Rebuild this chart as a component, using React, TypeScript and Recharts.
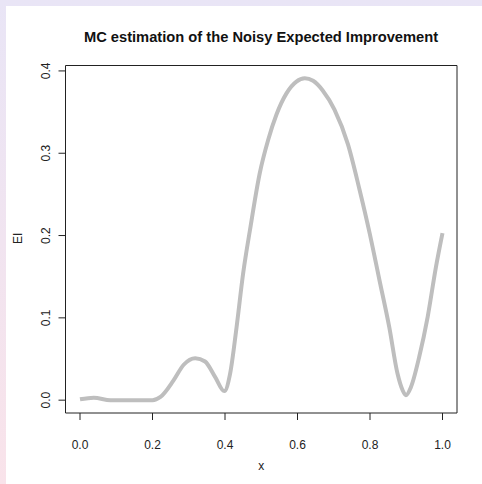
import { LineChart, Line, XAxis, YAxis, ReferenceArea } from 'recharts'

const xValues = [
  0, 0.038, 0.084, 0.12, 0.16, 0.2, 0.222, 0.258, 0.286, 0.318, 0.345, 0.373, 0.398, 0.414, 0.432, 0.45, 0.469,
  0.496, 0.519, 0.542, 0.57, 0.597, 0.62, 0.643, 0.67, 0.702, 0.739, 0.771, 0.799, 0.826, 0.853, 0.876,
  0.89, 0.899, 0.913, 0.936, 0.959, 0.982, 1.0,
]
const eiValues = [
  0.001, 0.003, 0, 0, 0, 0, 0.004, 0.024, 0.043, 0.051, 0.047, 0.028, 0.011, 0.032, 0.089, 0.154, 0.207,
  0.276, 0.316, 0.347, 0.373, 0.387, 0.391, 0.388, 0.376, 0.353, 0.311, 0.256, 0.203, 0.146, 0.089, 0.032,
  0.012, 0.006, 0.016, 0.053, 0.101, 0.162, 0.203,
]
const xTicks = [0, 0.2, 0.4, 0.6, 0.8, 1.0]
const yTicks = [0, 0.1, 0.2, 0.3, 0.4]

const data = xValues.map((x, i) => ({ x, ei: eiValues[i] }))

// R pads the data range by 4% on each side
const xDomain = [-0.04, 1.04]
const yDomain = [-0.0156, 0.4066]

const font = "'Liberation Sans', Arial, sans-serif"
const ink = '#222'

function YTick(props: any) {
  const { y, payload } = props
  const cx = 46
  return (
    <text
      x={cx}
      y={y}
      dy="0.35em"
      textAnchor="middle"
      transform={`rotate(-90, ${cx}, ${y})`}
      fontSize={12}
      fontFamily={font}
      fill={ink}
    >
      {payload.value.toFixed(1)}
    </text>
  )
}

function YTitle(props: any) {
  const { viewBox } = props
  const cx = viewBox.x + 18
  const cy = viewBox.y + viewBox.height / 2 - 1
  return (
    <text
      x={cx}
      y={cy}
      dy="0.35em"
      textAnchor="middle"
      transform={`rotate(-90, ${cx}, ${cy})`}
      fontSize={12}
      fontFamily={font}
      fill={ink}
    >
      EI
    </text>
  )
}

export default function App() {
  return (
    <div
      style={{
        position: 'absolute',
        left: 0,
        top: 0,
        width: 482,
        height: 484,
        background: 'linear-gradient(to bottom, #e9e5f6, #f9e3ea)',
      }}
    >
      <div style={{ position: 'absolute', left: 6, top: 6, right: 0, bottom: 0, background: '#fff' }} />
      <div
        style={{
          position: 'absolute',
          left: 0,
          width: 522,
          top: 28,
          textAlign: 'center',
          fontFamily: font,
          fontWeight: 'bold',
          fontSize: 14.7,
          lineHeight: '18px',
          color: '#111',
        }}
      >
        MC estimation of the Noisy Expected Improvement
      </div>
      <div style={{ position: 'absolute', left: 0, top: 0 }}>
        <LineChart width={482} height={484} data={data} margin={{ top: 65.5, right: 25, bottom: 0, left: 0 }}>
          <XAxis
            dataKey="x"
            type="number"
            domain={xDomain}
            ticks={xTicks}
            tickFormatter={(v) => v.toFixed(1)}
            height={71}
            axisLine={false}
            tickSize={7}
            tickMargin={20}
            tickLine={{ stroke: ink }}
            tick={{ fontSize: 12, fontFamily: font, fill: ink }}
            allowDataOverflow
            label={{ value: 'x', position: 'insideBottom', offset: 14, fontSize: 12, fontFamily: font, fill: ink }}
          />
          <YAxis
            type="number"
            domain={yDomain}
            ticks={yTicks}
            width={65.5}
            axisLine={false}
            tickSize={7}
            tickLine={{ stroke: ink }}
            tick={<YTick />}
            allowDataOverflow
            label={<YTitle />}
          />
          <ReferenceArea
            x1={xDomain[0]}
            x2={xDomain[1]}
            y1={yDomain[0]}
            y2={yDomain[1]}
            fill="none"
            stroke={ink}
            strokeWidth={1}
            ifOverflow="visible"
          />
          <Line
            type="monotone"
            dataKey="ei"
            stroke="#bebebe"
            strokeWidth={4}
            dot={false}
            isAnimationActive={false}
          />
        </LineChart>
      </div>
    </div>
  )
}
